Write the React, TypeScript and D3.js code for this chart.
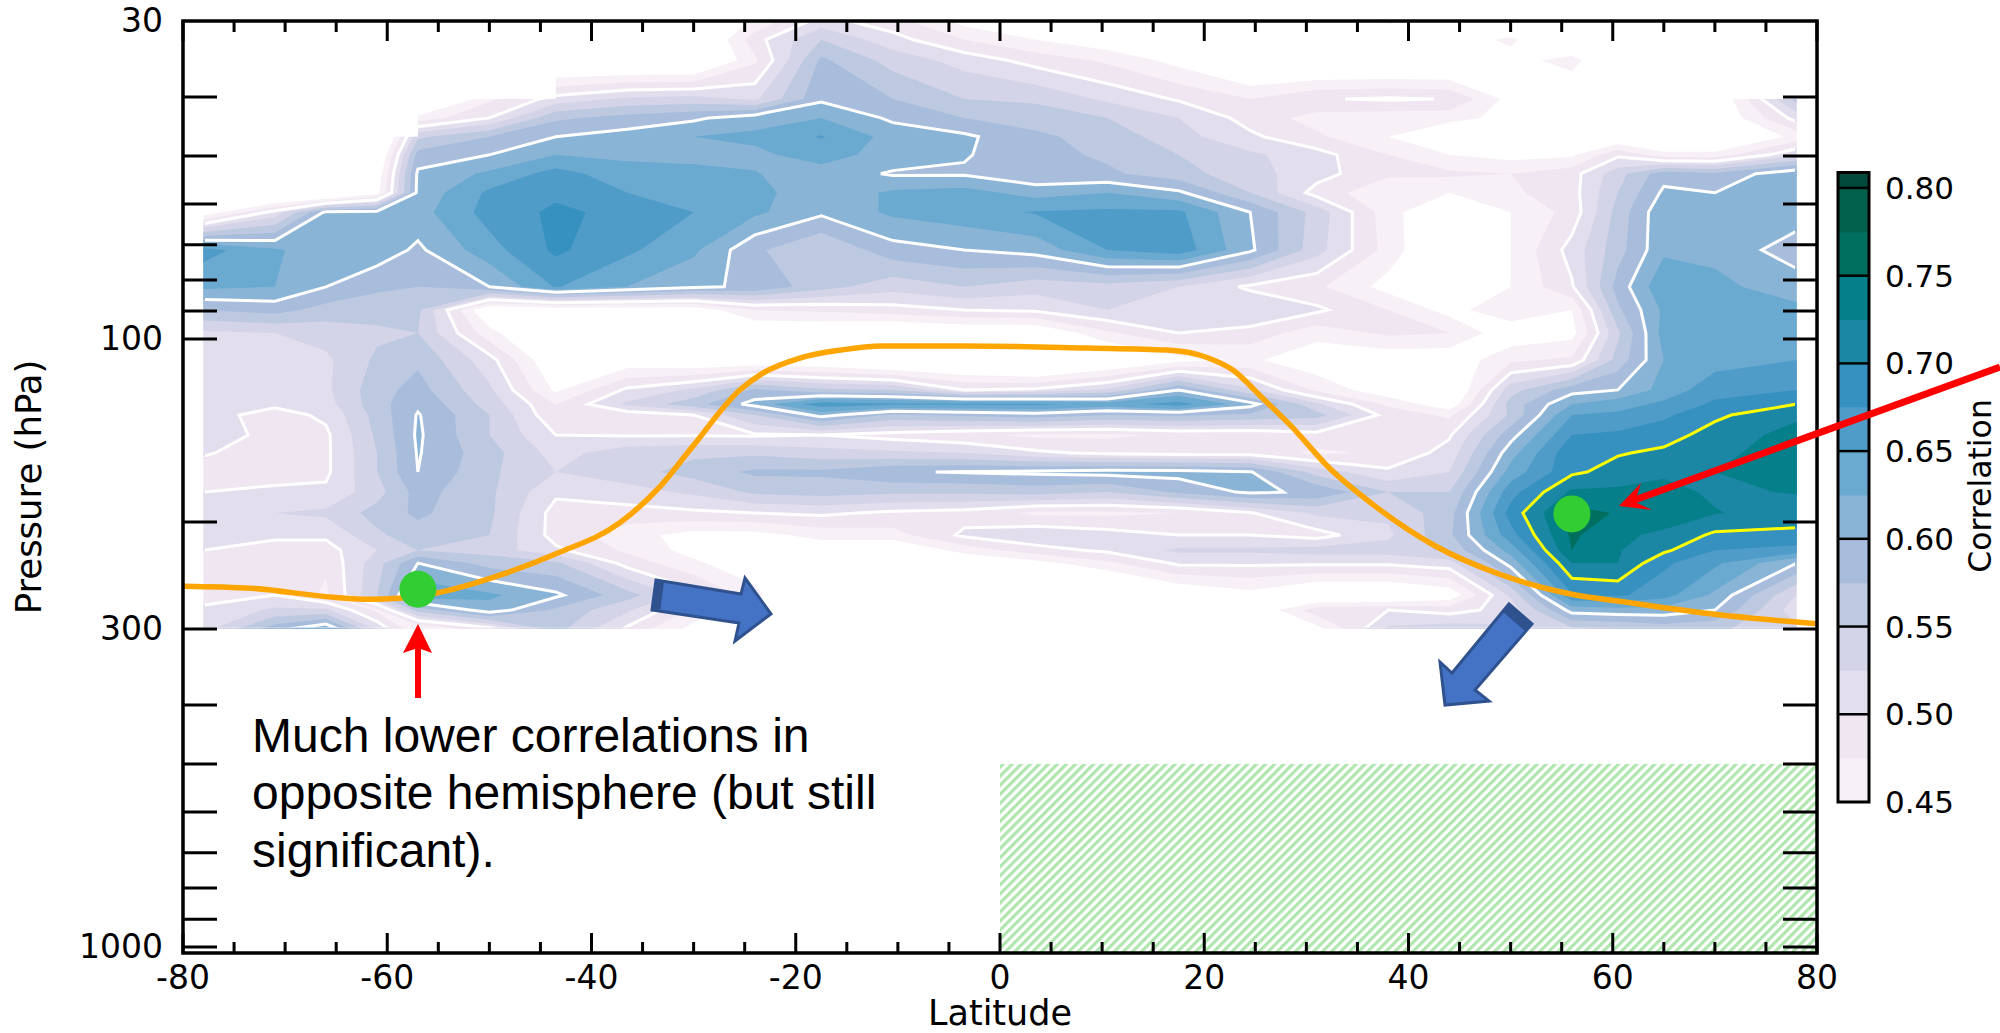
import React from "react";
import * as d3 from "d3";

// Grid axes of the correlation field
const latitudes = [-78,-71,-66,-61,-57,-50,-43.5,-36.5,-30,-24,-17.5,-10.5,-3.5,3.5,10.5,17.5,24.5,31,38,44,50,56,60.5,65,70,78];
const pressures = [30,32.2,34.8,40.3,43.3,46.5,49.8,53.5,57.5,61.9,71.4,82.1,89.6,97.8,108.3,121.3,128,133.4,143.9,154,165.5,178.6,193.3,210.2,222.5,233.7,263.8,279.2,300];

// Correlation, one list per pressure level (top to bottom)
const p030 = [.38,.38,.38,.38,.36,.36,.36,.38,.40,.455,.51,.485,.44,.42,.41,.40,.38,.38,.46,.44,.38,.38,.38,.38,.38,.38];
const p032 = [.38,.38,.38,.38,.36,.36,.36,.38,.40,.49,.55,.51,.475,.45,.43,.41,.38,.38,.40,.42,.46,.38,.38,.38,.38,.38];
const p035 = [.38,.38,.38,.38,.36,.36,.40,.40,.40,.47,.58,.54,.515,.49,.47,.44,.40,.40,.40,.40,.43,.47,.38,.38,.38,.38];
const p040 = [.38,.38,.38,.38,.38,.47,.51,.53,.535,.52,.595,.575,.55,.545,.52,.497,.475,.498,.503,.499,.44,.40,.38,.38,.42,.56];
const p043 = [.38,.38,.38,.38,.46,.50,.57,.585,.595,.615,.625,.595,.575,.565,.55,.525,.49,.465,.46,.46,.44,.40,.39,.38,.42,.51];
const p047 = [.38,.38,.38,.38,.545,.575,.6,.61,.625,.63,.652,.615,.605,.58,.565,.535,.505,.48,.45,.42,.40,.40,.42,.40,.40,.46];
const p050 = [.38,.38,.38,.41,.585,.6,.625,.62,.62,.62,.635,.615,.602,.585,.57,.55,.53,.51,.475,.45,.44,.445,.495,.46,.46,.52];
const p054 = [.38,.38,.38,.43,.605,.63,.66,.635,.63,.626,.615,.597,.597,.58,.58,.56,.535,.51,.48,.48,.475,.49,.54,.59,.58,.62];
const p058 = [.38,.38,.38,.44,.607,.655,.67,.65,.64,.635,.605,.63,.635,.615,.625,.605,.55,.49,.455,.45,.47,.49,.55,.605,.60,.625];
const p062 = [.43,.51,.605,.61,.615,.66,.68,.668,.65,.63,.605,.63,.64,.652,.655,.655,.6,.54,.46,.42,.45,.485,.56,.62,.62,.615];
const p071 = [.66,.63,.605,.615,.595,.64,.68,.655,.63,.58,.55,.59,.6,.61,.65,.665,.605,.535,.465,.41,.45,.51,.565,.62,.62,.585];
const p082 = [.63,.625,.6,.58,.575,.6,.652,.625,.605,.595,.56,.535,.55,.535,.54,.525,.495,.48,.44,.42,.45,.497,.585,.645,.63,.615];
const p090 = [.575,.585,.565,.56,.555,.42,.43,.43,.43,.475,.48,.49,.5,.505,.525,.52,.525,.505,.475,.44,.47,.45,.57,.63,.635,.63];
const p098 = [.52,.525,.535,.545,.55,.46,.40,.41,.42,.42,.42,.41,.42,.42,.47,.5,.49,.46,.48,.475,.43,.44,.545,.635,.635,.625];
const p108 = [.515,.515,.52,.555,.57,.51,.42,.43,.42,.42,.42,.40,.40,.38,.41,.44,.455,.43,.43,.43,.47,.48,.56,.625,.64,.65];
const p121 = [.515,.515,.52,.565,.585,.53,.445,.505,.53,.58,.555,.55,.50,.505,.53,.6,.53,.47,.43,.41,.54,.59,.6,.635,.665,.675];
const p128 = [.51,.505,.515,.565,.595,.54,.475,.53,.565,.61,.665,.655,.655,.655,.64,.66,.61,.53,.47,.43,.56,.625,.64,.655,.68,.70];
const p133 = [.51,.49,.505,.56,.602,.55,.48,.485,.5,.55,.61,.57,.58,.59,.575,.58,.57,.56,.49,.47,.555,.65,.655,.67,.695,.72];
const p144 = [.505,.497,.495,.555,.604,.55,.5,.498,.498,.497,.5,.49,.48,.47,.47,.48,.48,.49,.495,.497,.59,.675,.68,.69,.71,.735];
const p154 = [.502,.49,.495,.55,.602,.56,.515,.54,.545,.545,.535,.53,.525,.505,.495,.49,.49,.47,.48,.51,.615,.695,.698,.705,.72,.735];
const p166 = [.49,.49,.495,.55,.6,.555,.525,.54,.56,.58,.58,.597,.602,.605,.61,.61,.602,.54,.505,.525,.635,.695,.71,.72,.725,.725];
const p179 = [.5,.505,.505,.54,.585,.555,.505,.515,.53,.555,.56,.555,.555,.56,.55,.58,.605,.595,.55,.55,.665,.73,.73,.735,.72,.727];
const p193 = [.525,.525,.53,.56,.58,.555,.49,.49,.495,.5,.505,.495,.49,.47,.47,.475,.498,.53,.53,.565,.685,.76,.748,.74,.727,.71];
const p210 = [.51,.505,.505,.545,.565,.55,.49,.46,.44,.44,.46,.465,.505,.52,.51,.5,.5,.49,.52,.57,.665,.755,.73,.72,.695,.695];
const p222 = [.5,.49,.49,.525,.55,.54,.505,.47,.44,.44,.43,.42,.46,.49,.505,.53,.53,.535,.535,.555,.635,.75,.727,.705,.675,.665];
const p234 = [.49,.48,.48,.54,.6,.565,.555,.49,.455,.43,.40,.39,.42,.44,.47,.505,.505,.505,.505,.515,.61,.725,.725,.68,.655,.60];
const p264 = [.49,.5,.47,.55,.645,.63,.605,.56,.51,.46,.38,.38,.38,.38,.38,.42,.44,.41,.41,.43,.53,.672,.68,.66,.62,.525];
const p279 = [.505,.53,.53,.47,.56,.615,.57,.53,.47,.42,.38,.38,.38,.38,.38,.38,.42,.49,.50,.49,.51,.61,.615,.615,.60,.51];
const p300 = [.515,.59,.625,.52,.45,.49,.56,.495,.44,.40,.38,.38,.38,.38,.38,.38,.38,.44,.53,.54,.53,.545,.55,.56,.555,.53];
const fieldRows = [p030,p032,p035,p040,p043,p047,p050,p054,p058,p062,p071,p082,p090,p098,p108,p121,p128,p133,p144,p154,p166,p179,p193,p210,p222,p234,p264,p279,p300];

// Missing data boxes: lat from, lat to, pressure from, pressure to
const maskedLat = [[-80,-57],[-57,-43.5],[63,80]];
const maskedP = [[29,46.5],[29,40.3],[29,40.3]];

const fillLevels = [.45,.475,.5,.525,.55,.575,.6,.625,.65,.675,.7,.725,.75,.775,.8];
const fillColors = ["#f8f0f7","#efe6f2","#e3deed","#d4d4e8","#bdc8e1","#a7bddb","#8ab4d5","#6aa9d0","#4f9cc8","#3690c0","#1b87a5","#057f89","#016f60","#01614d","#014a3b"];
const whiteLevels = [.5,.6];
const yellowLevels = [.7];

// Tropopause (orange)
const tropLat = [-80,-73.3,-65.3,-61.7,-58.9,-55.3,-49.4,-43.3,-37.3,-33.3,-30.2,-25.4,-23.3,-19.6,-15.6,-11.6,-3.6,8.4,16.4,20.4,22.8,25.6,28.4,32.4,36.3,42.4,49,55.5,62,70.2,80];
const tropP = [255,257,266,268,267,262,246,225,201,175,151,121,114,107.5,104.3,102.7,102.7,103.5,104.3,107.5,112.5,124.6,138.5,164,186,218,244,262,272,284,294];

// Green points
const pointLat = [-57,56];
const pointP = [258,194];

const xMajor = [-80,-60,-40,-20,0,20,40,60,80];
const xMinor = d3.range(-75,80,5).filter(v => v % 20 !== 0);
const yLabelled = [30,100,300,1000];
const yTicks = [40,50,60,70,80,90,100,200,300,400,500,600,700,800,900,1000];
const cbTicks = [.45,.5,.55,.6,.65,.7,.75,.8];
const cbMax = .8088;

const W = 2000, H = 1033;
const L = 183, R = 1817, T = 21, B = 953;
const x = d3.scaleLinear().domain([-80,80]).range([L,R]);
const y = d3.scaleLog().domain([30,1023]).range([T,B]);
const cbY = d3.scaleLinear().domain([.45,cbMax]).range([802,172.5]);

const dx = latitudes.length, dy = pressures.length;
const field = fieldRows.flat();
const colToPx = d3.scaleLinear().domain(d3.range(dx)).range(latitudes.map(d => x(d))).clamp(true);
const rowToPx = d3.scaleLinear().domain(d3.range(dy)).range(pressures.map(d => y(d))).clamp(true);

function contourPath(level: number) {
  const c = d3.contours().size([dx,dy]).smooth(true).thresholds([level])(field)[0];
  let s = "";
  for (const poly of c.coordinates) for (const ring of poly) {
    s += ring.map((p: number[], i: number) => (i ? "L" : "M") + colToPx(p[0]-.5).toFixed(2) + "," + rowToPx(p[1]-.5).toFixed(2)).join("") + "Z";
  }
  return s;
}

const trop = d3.line<number>().x(d => x(tropLat[d])).y(d => y(tropP[d])).curve(d3.curveMonotoneX)(d3.range(tropLat.length)) as string;

const sans = "'DejaVu Sans'";
const bigArrow = (pts: string, stripe: string) => (
  <g>
    <polygon points={pts} fill="#4472c4" stroke="#2f528f" strokeWidth={3} strokeLinejoin="miter" />
    <polygon points={stripe} fill="#2f528f" />
  </g>
);

export default function App() {
  const cl = { x: x(-78)+1.6, y: y(30), w: x(78)-x(-78)-3.2, h: y(300)-y(30)-1.6 };
  return (
    <svg width={W} height={H} viewBox={`0 0 ${W} ${H}`} style={{position:"absolute",left:0,top:0,background:"#fff"}}>
      <defs>
        <clipPath id="inner"><rect x={cl.x} y={cl.y} width={cl.w} height={cl.h} /></clipPath>
        <pattern id="hatch" patternUnits="userSpaceOnUse" width={6.4} height={6.4} patternTransform="rotate(45)">
          <rect width={6.4} height={6.4} fill="#fff" />
          <rect width={3.2} height={6.4} fill="#aee6ae" />
        </pattern>
      </defs>

      {fillLevels.map((lv,i) => <path key={lv} d={contourPath(lv)} fill={fillColors[i]} fillRule="evenodd" />)}
      <g clipPath="url(#inner)" fill="none" strokeLinejoin="miter">
        {whiteLevels.map(lv => <path key={lv} d={contourPath(lv)} stroke="#fff" strokeWidth={3} />)}
        {yellowLevels.map(lv => <path key={lv} d={contourPath(lv)} stroke="#ffff00" strokeWidth={3} />)}
      </g>
      {maskedLat.map((m,i) => <rect key={i} x={x(m[0])} width={x(m[1])-x(m[0])} y={y(maskedP[i][0])} height={y(maskedP[i][1])-y(maskedP[i][0])} fill="#fff" />)}

      <rect x={x(0)} width={x(80)-x(0)} y={y(500)} height={B-y(500)} fill="url(#hatch)" />

      <path d={trop} fill="none" stroke="#ffa500" strokeWidth={5.5} />
      {pointLat.map((d,i) => <circle key={d} cx={x(d)} cy={y(pointP[i])} r={18.5} fill="#32cd32" />)}

      {/* frame and ticks */}
      <g stroke="#000" fill="none">
        {xMajor.map(v => <path key={v} strokeWidth={3} d={`M${x(v)},${T}v20M${x(v)},${B}v-20`} />)}
        {xMinor.map(v => <path key={v} strokeWidth={3} d={`M${x(v)},${T}v11M${x(v)},${B}v-11`} />)}
        {yTicks.map(v => <path key={v} strokeWidth={3} d={`M${L},${y(v)}h34M${R},${y(v)}h-34`} />)}
        <rect x={L} y={T} width={R-L} height={B-T} strokeWidth={3.5} />
      </g>
      <g fontFamily={sans} fontSize={33} fill="#000">
        {xMajor.map(v => <text key={v} x={x(v)} y={989} textAnchor="middle">{String(v)}</text>)}
        {yLabelled.map(v => <text key={v} x={163} y={y(v)+11} textAnchor="end">{v}</text>)}
        <text x={1000} y={1025} textAnchor="middle" fontSize={35}>Latitude</text>
        <text transform="translate(41,487) rotate(-90)" textAnchor="middle" fontSize={35.5}>Pressure (hPa)</text>
      </g>

      {/* colour bar */}
      {fillLevels.map((lv,i) => {
        const top = i === fillLevels.length-1 ? cbMax : fillLevels[i+1];
        return <rect key={lv} x={1838} width={31} y={cbY(top)} height={cbY(lv)-cbY(top)+.5} fill={fillColors[i]} />;
      })}
      {cbTicks.slice(1).map(v => <line key={v} x1={1838} x2={1869} y1={cbY(v)} y2={cbY(v)} stroke="#000" strokeWidth={2.5} />)}
      <rect x={1838} y={172.5} width={31} height={629.5} fill="none" stroke="#000" strokeWidth={3} />
      <g fontFamily={sans} fontSize={31} fill="#000">
        {cbTicks.map(v => <text key={v} x={1885} y={cbY(v)+11} textAnchor="start">{v.toFixed(2)}</text>)}
        <text transform="translate(1991,486) rotate(-90)" textAnchor="middle" fontSize={31.5}>Correlation</text>
      </g>

      {/* annotations */}
      {bigArrow("656,580 741,594 745,578 771,614 735,641 739,623 652,610","656,580 664,582 660,612 652,610")}
      {bigArrow("1509,604 1532,624 1475,690 1489,701 1445,705 1440,662 1452,673","1509,604 1532,624 1525,631 1503,612")}
      <line x1={2000} y1={367} x2={1632} y2={501} stroke="#ff0000" strokeWidth={7} />
      <polygon points="1619,506 1641,483 1635,502 1652,510" fill="#ff0000" />
      <line x1={418} y1={698} x2={418} y2={645} stroke="#ff0000" strokeWidth={6} />
      <polygon points="418,624 403,653 418,648 432,653" fill="#ff0000" />
      <g fontFamily="'Liberation Sans'" fontSize={48} fill="#000">
        <text x={252} y={752}>Much lower correlations in</text>
        <text x={252} y={809}>opposite hemisphere (but still</text>
        <text x={252} y={867}>significant).</text>
      </g>
    </svg>
  );
}
